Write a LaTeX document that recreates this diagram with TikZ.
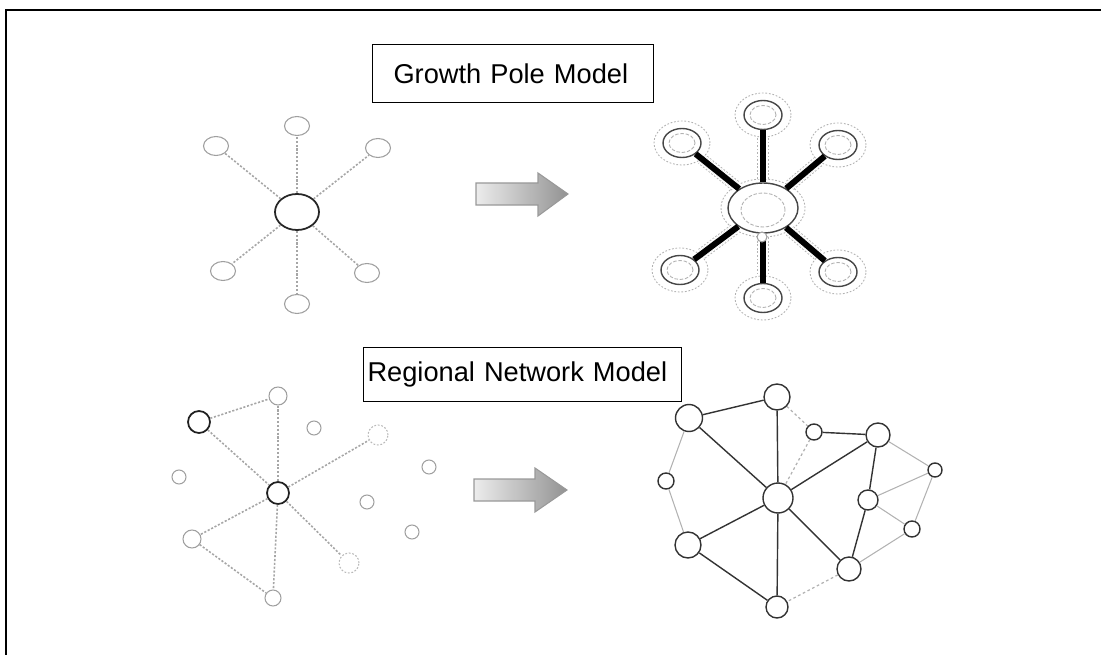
\documentclass[tikz,border=0pt]{standalone}
\usepackage{fontspec}
\setmainfont{Liberation Sans}
\usetikzlibrary{shapes.geometric, positioning}

\tikzset{
  frame/.style={line width=1.2pt},
  modelbox/.style={draw, line width=0.6pt, anchor=north west, inner ysep=0pt, align=left, font=\fontsize{15.5}{18}\selectfont},
  fatarrow/.style={draw=gray!80, line width=0.6pt, left color=gray!15, right color=gray!85},
  % before
  oval/.style={ellipse, draw=gray!75, line width=0.6pt, fill=white, inner sep=0pt},
  pole/.style={oval, draw=gray!30!black, line width=1pt, minimum width=0.88cm, minimum height=0.72cm},
  sat/.style={oval, minimum width=0.5cm, minimum height=0.38cm},
  spot/.style={circle, draw=gray!75, line width=0.6pt, fill=white, inner sep=0pt, minimum size=#1},
  spot/.default=0.28cm,
  darkspot/.style={spot=#1, draw=gray!25!black, line width=1pt},
  ghostspot/.style={spot=#1, draw=gray!55, dash pattern=on 1pt off 1pt},
  dotline/.style={draw=gray!70, line width=0.9pt, dash pattern=on 1.2pt off 1pt},
  % after
  halo/.style={ellipse, draw=gray!60, line width=0.5pt, dash pattern=on 1pt off 1pt, inner sep=0pt},
  ring/.style={ellipse, draw=gray!55!black, line width=0.8pt, fill=white, inner sep=0pt},
  core/.style={ellipse, draw=gray!60, line width=0.5pt, dash pattern=on 2pt off 1pt, inner sep=0pt},
  band/.style={draw=gray!60, line width=0.5pt, dash pattern=on 1pt off 1pt, double=white, double distance=0.2cm},
  spoke/.style={draw=black, line width=0.12cm},
  netspot/.style={circle, draw=gray!40!black, line width=0.8pt, fill=white, inner sep=0pt, minimum size=#1},
  link/.style={draw=gray!40!black, line width=0.8pt},
  lightlink/.style={draw=gray!60, line width=0.6pt},
  dashlink/.style={draw=gray!60, line width=0.7pt, dash pattern=on 1.5pt off 1.5pt}
}

\begin{document}
\begin{tikzpicture}[x=0.02cm, y=-0.02cm]
\useasboundingbox (0,0) rectangle (1101,655);
\draw[frame] (6,655) -- (6,10) -- (1101,10);

% titles
\node[modelbox, minimum height=1.16cm, text width=4.78cm, inner xsep=0.42cm] (gpm) at (372,44) {Growth Pole Model};
\node[modelbox, minimum height=1.08cm, text width=6.2cm, inner xsep=0.08cm] (rnm) at (363,347) {Regional Network Model};

% growth pole: before
\node[pole] (gc) at (297,212) {};
\foreach \nm/\px/\py in {gt/297/126, gul/216/146, gur/378/148, gll/223/271, glr/367/273, gb/297/304}{
  \node[sat] (\nm) at (\px,\py) {};
  \draw[dotline] (gc) -- (\nm);
}

% arrows
\path[fatarrow] (476,183) -- (538,183) -- (538,173) -- (568,194) -- (538,216) -- (538,205) -- (476,205) -- cycle;
\path[fatarrow] (474,479) -- (535,479) -- (535,468) -- (567,490) -- (535,512) -- (535,501) -- (474,501) -- cycle;

% growth pole: after
\node[halo, minimum width=1.68cm, minimum height=1.16cm] (hh) at (763,208) {};
\foreach \nm/\px/\py in {pt/763/115, pul/682/143, pur/838/145, pll/680/270, plr/838/272, pb/763/298}{
  \node[halo, minimum width=1.12cm, minimum height=0.88cm] (\nm h) at (\px,\py) {};
  \draw[band] (hh) -- (\nm h);
  \node[ring, minimum width=0.76cm, minimum height=0.58cm] (\nm) at (\px,\py) {};
  \node[core, minimum width=0.52cm, minimum height=0.38cm] (\nm c) at (\px,\py) {};
}
\node[ring, minimum width=1.4cm, minimum height=1cm] (hr) at (763,208) {};
\node[core, minimum width=0.88cm, minimum height=0.68cm] (hc) at (763,210) {};
\foreach \nm in {pt, pul, pur, pll, plr, pb}
  \draw[spoke] (hr) -- (\nm);
\node[spot=0.2cm] (hd) at (762,237) {};

% regional network: before
\node[darkspot=0.44cm] (na) at (278,493) {};
\node[spot=0.36cm] (nb) at (278,396) {};
\node[darkspot=0.44cm] (nc) at (199,422) {};
\node[spot] (nd) at (314,428) {};
\node[ghostspot=0.4cm] (ne) at (378,435) {};
\node[spot] (nf) at (179,477) {};
\node[spot] (ng) at (429,467) {};
\node[spot] (nh) at (367,502) {};
\node[spot] (ni) at (412,532) {};
\node[spot=0.36cm] (nj) at (192,539) {};
\node[ghostspot=0.4cm] (nk) at (349,563) {};
\node[spot=0.32cm] (nl) at (273,598) {};
\foreach \a/\b in {nc/nb, nb/na, nc/na, na/ne, na/nj, nj/nl, na/nl, na/nk}
  \draw[dotline] (\a) -- (\b);

% regional network: after
\node[netspot=0.54cm] (r1) at (689,418) {};
\node[netspot=0.52cm] (r2) at (777,397) {};
\node[netspot=0.32cm] (r3) at (814,432) {};
\node[netspot=0.48cm] (r4) at (878,435) {};
\node[netspot=0.28cm] (r5) at (935,470) {};
\node[netspot=0.32cm] (r6) at (666,481) {};
\node[netspot=0.6cm] (r7) at (778,498) {};
\node[netspot=0.4cm] (r8) at (868,500) {};
\node[netspot=0.32cm] (r9) at (912,529) {};
\node[netspot=0.52cm] (r10) at (688,545) {};
\node[netspot=0.48cm] (r11) at (849,569) {};
\node[netspot=0.44cm] (r12) at (777,607) {};
\foreach \a/\b in {r1/r2, r1/r7, r2/r7, r3/r4, r4/r7, r4/r8, r7/r10, r7/r11, r7/r12, r10/r12, r8/r11}
  \draw[link] (\a) -- (\b);
\foreach \a/\b in {r1/r6, r6/r10, r4/r5, r5/r8, r5/r9, r8/r9, r9/r11}
  \draw[lightlink] (\a) -- (\b);
\foreach \a/\b in {r2/r3, r3/r7, r11/r12}
  \draw[dashlink] (\a) -- (\b);
\end{tikzpicture}
\end{document}
